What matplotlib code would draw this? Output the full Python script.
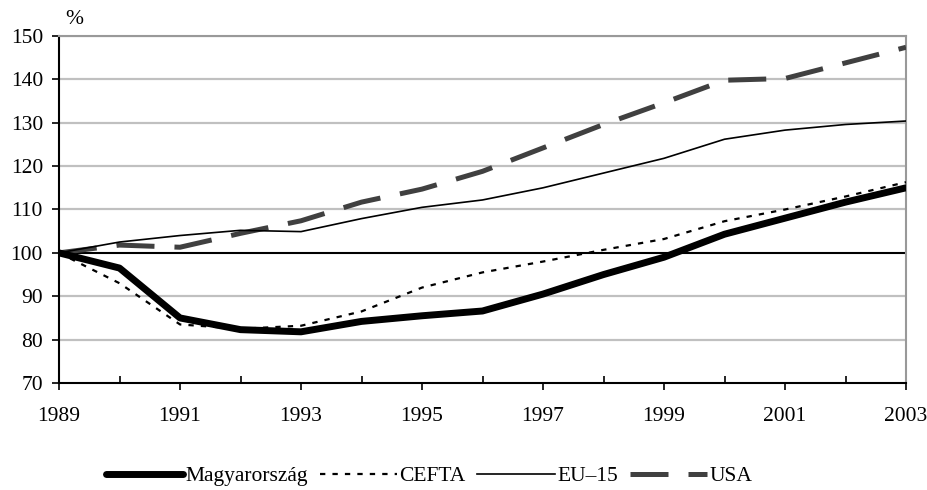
import matplotlib
matplotlib.use("Agg")
import matplotlib.pyplot as plt

years = list(range(1989, 2004))
hungary = [100, 96.5, 85.0, 82.3, 81.8, 84.2, 85.5, 86.6, 90.5, 95.0, 99.0, 104.3, 108.0, 111.7, 115.0]
cefta = [100, 93.0, 83.5, 82.5, 83.2, 86.5, 92.0, 95.5, 98.0, 100.7, 103.2, 107.3, 110.0, 113.0, 116.3]
eu15 = [100, 102.5, 104.0, 105.2, 104.9, 107.9, 110.5, 112.2, 115.0, 118.4, 121.8, 126.2, 128.3, 129.6, 130.4]
usa = [100, 101.8, 101.3, 104.5, 107.4, 111.7, 114.7, 118.8, 124.2, 129.6, 134.6, 139.8, 140.2, 143.8, 147.4]

x_labels = list(range(1989, 2004, 2))
y_ticks = list(range(70, 151, 10))

FS = 15.5
plt.rcParams['font.family'] = ['Liberation Serif', 'DejaVu Serif']
plt.rcParams['font.size'] = FS

fig = plt.figure(figsize=(9.28, 4.9), dpi=100)
ax = fig.add_axes([59 / 928, 1 - 383 / 490, 847 / 928, 347 / 490])

# horizontal grid, the 100 line in black
for v in y_ticks[1:]:
    if v != 100:
        ax.axhline(v, color='#c0c0c0', linewidth=1.6, zorder=1)
ax.axhline(100, color='black', linewidth=1.5, zorder=2)

ax.plot(years, hungary, color='black', linewidth=5.0, solid_capstyle='round',
        solid_joinstyle='round', label='Magyarország', zorder=5)
ax.plot(years, cefta, color='black', linewidth=1.6, dashes=(2.4, 3.2),
        label='CEFTA', zorder=4)
ax.plot(years, eu15, color='black', linewidth=1.2, label='EU–15', zorder=4)
ax.plot(years, usa, color='#404040', linewidth=3.6, dashes=(7.6, 4.0),
        label='USA', zorder=3)

ax.set_xlim(1989, 2003)
ax.set_ylim(70, 150)
ax.set_xticks(years[1::2], minor=True)
ax.set_xticks(x_labels)
ax.set_yticks(y_ticks)
ax.tick_params(axis='both', which='major', direction='out', length=5, width=1.2,
               color='black', labelsize=FS)
ax.tick_params(axis='x', which='minor', direction='in', length=5, width=1.2,
               color='black')
ax.tick_params(axis='x', which='major', pad=12)
ax.tick_params(axis='y', pad=6.5)

for side in ['left', 'bottom']:
    ax.spines[side].set_color('black')
    ax.spines[side].set_linewidth(1.5)
for side in ['right', 'top']:
    ax.spines[side].set_color('#999999')
    ax.spines[side].set_linewidth(1.5)

fig.text(65 / 928, 1 - 20 / 490, '%', fontsize=FS, ha='left', va='center')

fig.legend(loc='center', bbox_to_anchor=(429 / 928, 1 - 476 / 490), ncol=4,
           frameon=False, handlelength=3.6, handletextpad=0.1, columnspacing=0.55,
           fontsize=FS)

fig.savefig('out.png', dpi=100)
